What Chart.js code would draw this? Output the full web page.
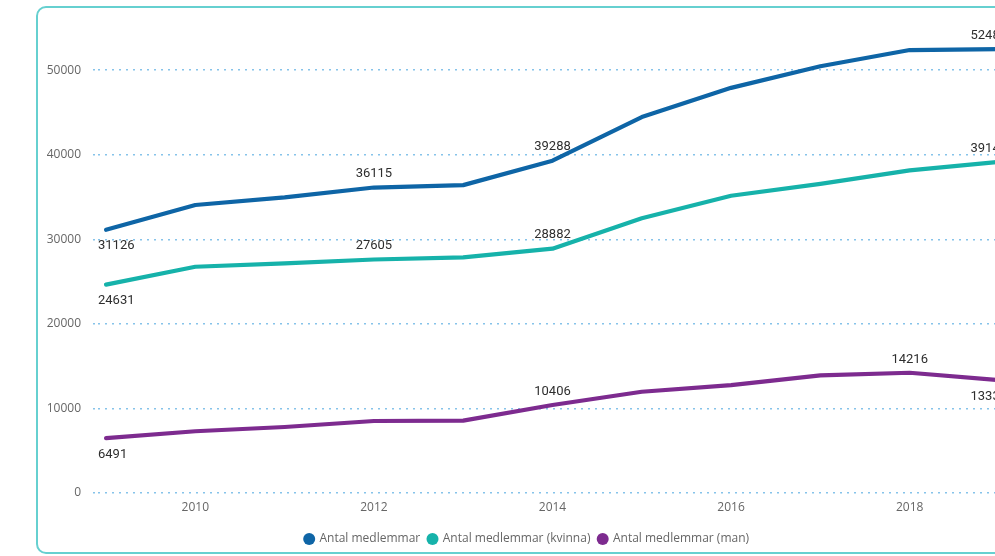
<!DOCTYPE html>
<html><head><meta charset="utf-8">
<script src="https://cdn.jsdelivr.net/npm/chart.js@4"></script>
<style>
html,body{margin:0;padding:0;width:995px;height:556px;overflow:hidden;background:#fff;}
#card{position:absolute;left:36px;top:6px;width:1010px;height:548px;border:2px solid #66d0d0;border-radius:10px;box-sizing:border-box;}
#wrap{position:absolute;left:0;top:0;width:1054px;height:556px;}
</style></head><body>
<div id="card"></div>
<div id="wrap"><canvas id="c" width="1054" height="556" style="width:1054px;height:556px"></canvas></div>
<script>
const years = [2009, 2010, 2011, 2012, 2013, 2014, 2015, 2016, 2017, 2018, 2019];
const total = [31126, 34050, 34950, 36115, 36400, 39288, 44450, 47900, 50450, 52370, 52480];
const women = [24631, 26750, 27150, 27605, 27850, 28882, 32480, 35140, 36550, 38150, 39145];
const men   = [6491, 7300, 7800, 8510, 8550, 10406, 11970, 12760, 13900, 14216, 13335];
const seriesNames = ['Antal medlemmar', 'Antal medlemmar (kvinna)', 'Antal medlemmar (man)'];
const seriesColors = ['#0e65a6', '#16b2aa', '#7d2b8f'];
const xTickValues = [2010, 2012, 2014, 2016, 2018];
const yTickValues = [0, 10000, 20000, 30000, 40000, 50000];
// which points carry a data label, and whether above or below the line
const labelsTotal = {0: 'below', 3: 'above', 5: 'above', 10: 'above'};
const labelsWomen = {0: 'below', 3: 'above', 5: 'above', 10: 'above'};
const labelsMen   = {0: 'below', 5: 'above', 9: 'above', 10: 'below'};

const seriesValues = [total, women, men];
const seriesLabels = [labelsTotal, labelsWomen, labelsMen];

const dataLabelPlugin = {
  id: 'dataLabels',
  afterDatasetsDraw(chart) {
    const ctx = chart.ctx;
    const area = chart.chartArea;
    ctx.save();
    ctx.font = '13px Roboto';
    ctx.fillStyle = '#2e2e2e';
    ctx.textAlign = 'center';
    ctx.textBaseline = 'middle';
    chart.data.datasets.forEach((ds, di) => {
      const meta = chart.getDatasetMeta(di);
      const lbls = seriesLabels[di];
      Object.keys(lbls).forEach(k => {
        const i = +k;
        const pt = meta.data[i];
        if (!pt) return;
        const text = String(seriesValues[di][i]);
        const w = ctx.measureText(text).width;
        let x = pt.x;
        if (x - w / 2 < area.left) x = area.left + w / 2;
        if (x + w / 2 > area.right) x = area.right - w / 2;
        const y = lbls[k] === 'above' ? pt.y - 13.5 : pt.y + 16.5;
        ctx.fillText(text, x, y);
      });
    });
    ctx.restore();
  }
};

const gridColor = '#86c3ea';
new Chart(document.getElementById('c'), {
  type: 'line',
  data: {
    datasets: seriesNames.map((name, i) => ({
      label: name,
      data: years.map((y, j) => ({x: y, y: seriesValues[i][j]})),
      borderColor: seriesColors[i],
      backgroundColor: seriesColors[i],
      borderWidth: 4.2,
      pointRadius: 0,
      pointHoverRadius: 0,
      tension: 0,
      borderJoinStyle: 'round',
      borderCapStyle: 'round'
    }))
  },
  options: {
    responsive: false,
    animation: false,
    layout: {padding: {left: 47, right: 47, top: 27.8, bottom: 1}},
    scales: {
      x: {
        type: 'linear',
        min: years[0] - 0.09,
        max: years[years.length - 1] + 0.09,
        grid: {display: false, drawTicks: false},
        border: {display: false},
        afterBuildTicks: s => { s.ticks = xTickValues.map(v => ({value: v})); },
        afterFit: s => { s.height = 32; },
        ticks: {
          padding: 7,
          maxRotation: 0,
          autoSkip: false,
          color: '#666666',
          font: {family: 'Open Sans', size: 12},
          callback: v => String(v)
        }
      },
      y: {
        min: 0,
        max: 55000,
        afterBuildTicks: s => { s.ticks = yTickValues.map(v => ({value: v})); },
        afterFit: s => { s.width = 51; },
        border: {display: false, dash: [2, 5]},
        grid: {
          color: gridColor,
          lineWidth: 1.5,
          drawTicks: true,
          tickLength: 5,
          tickColor: gridColor,
          tickWidth: 1.5,
          tickBorderDash: [2, 5]
        },
        ticks: {
          padding: 12,
          color: '#666666',
          font: {family: 'Open Sans', size: 12},
          callback: v => String(v)
        }
      }
    },
    plugins: {
      tooltip: {enabled: false},
      legend: {
        position: 'bottom',
        labels: {
          usePointStyle: true,
          pointStyle: 'circle',
          boxWidth: 8.5,
          boxHeight: 8.5,
          padding: 8,
          color: '#666666',
          font: {family: 'Open Sans', size: 12},
          generateLabels: chart => Chart.defaults.plugins.legend.labels.generateLabels(chart).map(it => Object.assign(it, {lineWidth: 0}))
        }
      }
    }
  },
  plugins: [dataLabelPlugin]
});
</script>
</body></html>
